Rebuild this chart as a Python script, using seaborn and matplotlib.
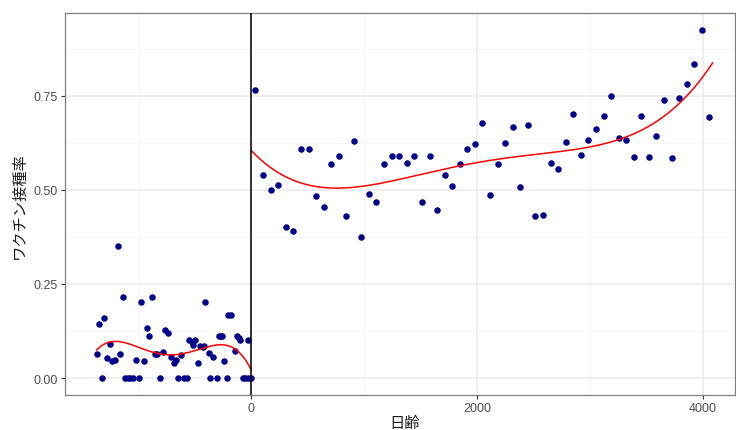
import numpy as np
import pandas as pd
import matplotlib
matplotlib.use("Agg")
import matplotlib.pyplot as plt
import seaborn as sns

# ---- data ----
left_days = [-1372, -1348, -1327, -1304, -1280, -1254, -1233, -1209, -1186, -1162,
             -1141, -1120, -1097, -1074, -1050, -1021, -1000, -976, -950, -926,
             -905, -879, -858, -835, -811, -784, -764, -740, -713, -689,
             -669, -648, -622, -598, -574, -554, -530, -520, -500, -477,
             -456, -432, -424, -412, -379, -368, -338, -308, -291, -270,
             -259, -244, -220, -205, -182, -146, -128, -113, -102, -78,
             -55, -34, -34, -4]
left_rate = [0.063, 0.144, 0.000, 0.159, 0.054, 0.091, 0.045, 0.048, 0.351, 0.063,
             0.215, 0.000, 0.000, 0.000, 0.000, 0.049, 0.000, 0.201, 0.044, 0.134,
             0.112, 0.215, 0.063, 0.063, 0.000, 0.068, 0.127, 0.119, 0.057, 0.039,
             0.049, 0.000, 0.060, 0.000, 0.000, 0.101, 0.097, 0.089, 0.102, 0.039,
             0.085, 0.083, 0.085, 0.201, 0.067, 0.000, 0.057, 0.000, 0.111, 0.111,
             0.112, 0.046, 0.000, 0.168, 0.168, 0.073, 0.112, 0.106, 0.101, 0.000,
             0.000, 0.000, 0.102, 0.000]

right_days = [34, 102, 170, 238, 306, 371, 439, 507, 572, 640,
              704, 773, 840, 908, 973, 1041, 1106, 1174, 1242, 1310,
              1375, 1443, 1511, 1579, 1644, 1712, 1779, 1847, 1912, 1980,
              2045, 2113, 2181, 2246, 2314, 2382, 2450, 2514, 2583, 2651,
              2718, 2784, 2851, 2919, 2984, 3052, 3120, 3185, 3253, 3321,
              3386, 3454, 3522, 3586, 3655, 3723, 3790, 3856, 3923, 3989,
              4056]
right_rate = [0.766, 0.541, 0.501, 0.513, 0.401, 0.392, 0.608, 0.608, 0.484, 0.456,
              0.570, 0.590, 0.432, 0.630, 0.374, 0.489, 0.469, 0.570, 0.590, 0.590,
              0.573, 0.591, 0.469, 0.591, 0.448, 0.539, 0.511, 0.568, 0.608, 0.621,
              0.677, 0.488, 0.570, 0.624, 0.668, 0.509, 0.673, 0.430, 0.434, 0.573,
              0.556, 0.628, 0.701, 0.594, 0.633, 0.662, 0.696, 0.751, 0.637, 0.634,
              0.588, 0.697, 0.589, 0.644, 0.740, 0.584, 0.744, 0.783, 0.834, 0.925,
              0.693]

x_ticks = [0, 2000, 4000]
y_ticks = [0.00, 0.25, 0.50, 0.75]
x_label = "日齢"
y_label = "ワクチン接種率"

df = pd.DataFrame({
    "day": left_days + right_days,
    "rate": left_rate + right_rate,
})

# ---- figure ----
sns.set_theme(style="white")
plt.rcParams["font.family"] = ["Liberation Sans", "Noto Sans CJK JP", "DejaVu Sans"]

fig = plt.figure(figsize=(7.36, 4.31), dpi=100)
ax = fig.add_axes([65 / 736, 1 - 396 / 431, 670 / 736, 382 / 431])

xlim = (-1652, 4283)
ylim = (-0.0452, 0.9707)

# grid (ggplot theme_bw style)
for v in [-1000, 1000, 3000]:
    ax.axvline(v, color="#f2f2f2", lw=0.55, zorder=0)
for v in [0.125, 0.375, 0.625, 0.875]:
    ax.axhline(v, color="#f2f2f2", lw=0.55, zorder=0)
for v in x_ticks:
    ax.axvline(v, color="#ebebeb", lw=1.1, zorder=0)
for v in y_ticks:
    ax.axhline(v, color="#ebebeb", lw=1.1, zorder=0)

sns.scatterplot(data=df, x="day", y="rate", ax=ax, color="#00008B",
                s=22, linewidth=0, zorder=3, legend=False)

# 4th-degree polynomial fits on each side of the cutoff
deg = 4
cl = np.polyfit(np.array(left_days, float) / 1000, left_rate, deg)
xl = np.linspace(min(left_days), 0, 200)
ax.plot(xl, np.polyval(cl, xl / 1000), color="red", lw=1.1, zorder=4)
cr = np.polyfit(np.array(right_days, float) / 1000, right_rate, deg)
xr = np.linspace(0, max(right_days) + 30, 300)
ax.plot(xr, np.polyval(cr, xr / 1000), color="red", lw=1.1, zorder=4)

ax.axvline(0, color="black", lw=1.1, zorder=5)

ax.set_xlim(*xlim)
ax.set_ylim(*ylim)
ax.set_xticks(x_ticks)
ax.set_xticklabels([str(t) for t in x_ticks])
ax.set_yticks(y_ticks)
ax.set_yticklabels([f"{t:.2f}" for t in y_ticks])
ax.tick_params(axis="both", which="major", length=3, width=0.8, color="#333333",
               labelcolor="#4d4d4d", labelsize=9, pad=2, direction="out",
               bottom=True, left=True)
for sp in ax.spines.values():
    sp.set_color("#7f7f7f")
    sp.set_linewidth(0.9)

ax.set_xlabel(x_label, fontsize=11, family=["Noto Sans CJK JP"], color="#1a1a1a")
ax.set_ylabel(y_label, fontsize=11, family=["Noto Sans CJK JP"], color="#1a1a1a")
ax.xaxis.set_label_coords((405 - 65) / 670, -(424 - 396) / 382)
ax.yaxis.set_label_coords((19 - 65) / 670, (396 - 206) / 382)
ax.xaxis.label.set_verticalalignment("center")
ax.yaxis.label.set_verticalalignment("center")

fig.savefig("out.png", dpi=100)
